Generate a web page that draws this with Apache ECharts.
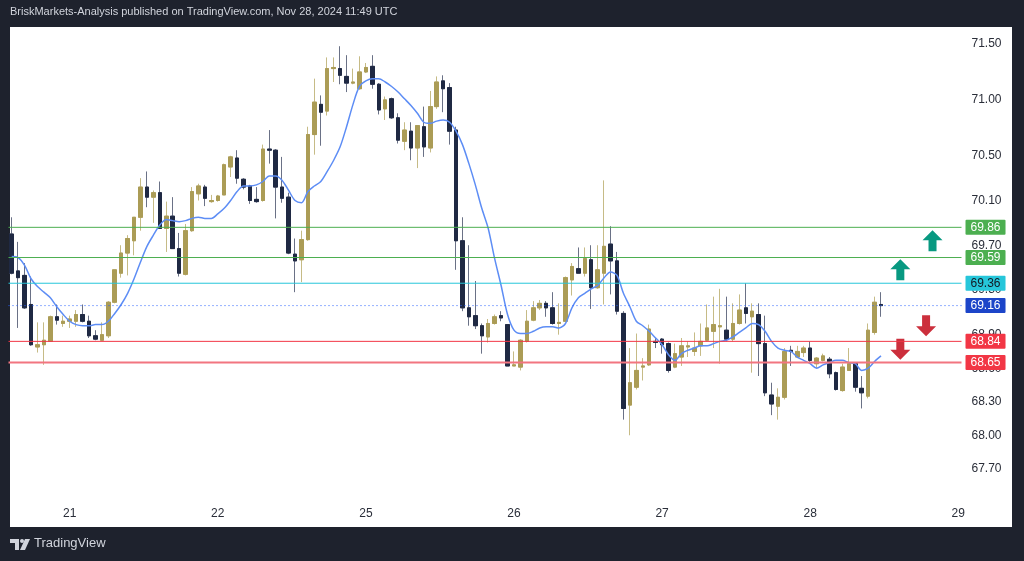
<!DOCTYPE html>
<html>
<head>
<meta charset="utf-8">
<script src="https://cdn.jsdelivr.net/npm/echarts@6/dist/echarts.min.js"></script>
<style>
  html, body { margin: 0; padding: 0; background: #1e222d; }
  #main { width: 1024px; height: 561px; }
</style>
</head>
<body>
<div id="main"></div>
<script>
// hourly candles (k = 0..135)
var opens = [69.80,69.47,69.43,69.17,68.79,68.81,68.84,69.06,69.00,69.02,69.02,69.08,69.02,68.89,68.85,68.89,69.19,69.45,69.63,69.74,
  69.95,70.22,70.13,70.17,69.85,69.96,69.67,69.44,69.83,70.16,70.22,70.09,70.10,70.15,70.40,70.48,70.29,70.23,70.11,70.10,
  70.56,70.55,70.22,70.13,69.62,69.57,69.75,70.69,70.96,70.90,71.28,71.28,71.21,71.15,71.10,71.25,71.30,71.14,70.92,71.01,
  70.84,70.63,70.72,70.57,70.76,70.57,70.94,71.17,71.11,70.73,69.74,69.14,69.07,68.98,68.88,69.00,69.07,68.99,68.62,68.61,
  68.84,69.03,69.14,69.18,69.14,69.00,69.02,69.39,69.49,69.45,69.57,69.32,69.45,69.71,69.56,69.09,68.27,68.43,68.61,68.63,
  68.84,68.86,68.82,68.61,68.70,68.79,68.75,68.80,68.85,68.93,68.97,68.94,68.86,69.00,69.14,69.06,69.08,68.82,68.36,68.26,
  68.34,68.76,68.70,68.74,68.78,68.64,68.67,68.68,68.56,68.40,68.58,68.64,68.42,68.35,68.92,69.17];
var closes = [69.45,69.41,69.14,68.81,68.81,68.85,69.06,69.03,69.02,69.04,69.08,69.02,68.89,68.86,68.90,69.19,69.48,69.63,69.76,69.95,
  70.22,70.13,70.17,69.85,69.96,69.67,69.45,69.83,70.18,70.23,70.12,70.10,70.14,70.42,70.49,70.30,70.22,70.10,70.09,70.56,
  70.55,70.22,70.12,69.63,69.56,69.75,70.69,70.98,70.89,71.28,71.29,71.22,71.15,71.16,71.25,71.29,71.14,70.91,71.00,70.84,
  70.64,70.73,70.57,70.77,70.58,70.94,71.16,71.10,70.72,69.74,69.14,69.06,68.98,68.89,69.00,69.06,69.05,68.62,68.63,68.85,
  69.02,69.14,69.18,69.14,69.00,69.01,69.41,69.51,69.45,69.58,69.32,69.48,69.69,69.56,69.11,68.24,68.47,68.58,68.62,68.95,
  68.83,68.81,68.58,68.73,68.80,68.80,68.78,68.84,68.96,68.99,68.98,68.86,69.00,69.12,69.09,69.11,68.82,68.38,68.28,68.34,
  68.75,68.75,68.75,68.78,68.67,68.69,68.71,68.55,68.41,68.61,68.64,68.43,68.38,68.94,69.19,69.16];
var highs = [69.95,69.73,69.54,69.42,69.01,69.01,69.07,69.17,69.07,69.07,69.12,69.17,69.07,68.94,69.01,69.20,69.48,69.70,69.79,69.95,
  70.30,70.36,70.19,70.27,70.09,70.13,69.81,69.89,70.22,70.25,70.24,70.15,70.15,70.43,70.50,70.55,70.30,70.24,70.22,70.60,
  70.73,70.56,70.49,70.17,69.76,69.83,70.76,71.19,71.04,71.38,71.38,71.48,71.40,71.28,71.39,71.33,71.40,71.15,71.03,71.02,
  70.88,70.80,70.80,70.77,70.94,71.08,71.21,71.22,71.15,70.76,69.95,69.70,69.38,69.00,69.04,69.08,69.11,68.99,68.75,68.86,
  69.12,69.20,69.21,69.20,69.28,69.18,69.42,69.54,69.68,69.68,69.70,69.70,70.28,69.87,69.64,69.11,68.78,68.91,68.69,68.99,
  68.87,68.87,68.83,68.82,68.87,68.84,68.92,69.00,69.17,69.24,69.31,69.24,69.18,69.26,69.36,69.18,69.18,69.07,68.47,68.42,
  68.78,68.80,68.80,68.80,68.84,68.70,68.73,68.70,68.57,68.64,68.78,68.65,68.53,69.00,69.24,69.28];
var lows = [69.44,68.96,69.13,68.80,68.74,68.63,68.84,68.99,68.97,68.96,68.97,69.01,68.87,68.85,68.85,68.87,69.18,69.41,69.43,69.61,
  69.83,70.04,69.90,69.85,69.64,69.67,69.42,69.43,69.82,70.10,70.05,70.08,70.09,70.15,70.31,70.25,70.20,70.07,70.08,70.09,
  70.43,69.94,70.08,69.62,69.28,69.37,69.74,70.51,70.59,70.86,71.16,71.14,71.07,71.14,71.09,71.24,71.10,70.87,70.82,70.83,
  70.61,70.55,70.46,70.39,70.49,70.53,70.92,70.89,70.60,69.48,69.11,68.98,68.95,68.73,68.83,68.99,69.02,68.62,68.62,68.58,
  68.83,69.02,69.12,69.06,68.99,68.90,69.01,69.25,69.45,69.42,69.13,69.31,69.17,69.26,69.08,68.14,68.00,68.41,68.49,68.62,
  68.78,68.73,68.56,68.60,68.62,68.70,68.71,68.71,68.84,68.78,68.64,68.84,68.84,68.99,69.00,68.56,68.53,68.35,68.18,68.14,
  68.32,68.62,68.69,68.70,68.64,68.60,68.66,68.51,68.40,68.39,68.58,68.39,68.24,68.33,68.90,69.06];
// blue moving average
var maLine = [69.60,69.59,69.52,69.40,69.33,69.28,69.23,69.15,69.08,69.02,68.99,68.98,68.98,68.99,68.99,69.02,69.09,69.17,69.27,69.40,
  69.55,69.69,69.79,69.88,69.93,69.92,69.91,69.92,69.94,69.95,69.94,69.94,69.98,70.03,70.10,70.18,70.23,70.23,70.24,70.27,
  70.32,70.32,70.28,70.19,70.10,70.08,70.18,70.23,70.27,70.36,70.46,70.58,70.76,70.96,71.12,71.17,71.19,71.19,71.16,71.12,
  71.07,71.01,70.95,70.88,70.80,70.79,70.81,70.82,70.80,70.72,70.60,70.43,70.24,70.03,69.85,69.58,69.34,69.08,68.94,68.91,
  68.91,68.93,68.96,68.97,68.97,68.96,69.00,69.14,69.23,69.27,69.31,69.34,69.41,69.46,69.43,69.27,69.15,69.02,68.98,68.93,
  68.87,68.81,68.72,68.67,68.73,68.76,68.78,68.80,68.80,68.82,68.84,68.85,68.88,68.92,68.96,69.00,68.99,68.93,68.84,68.78,
  68.76,68.75,68.70,68.67,68.64,68.60,68.63,68.65,68.67,68.67,68.65,68.64,68.58,68.60,68.66,68.71];

var dayLabels = ['21', '22', '25', '26', '27', '28', '29'];
var dayStarts = [9, 32, 55, 78, 101, 124, 147];
var slotCount = 148;
var priceTicks = [67.70, 68.00, 68.30, 68.60, 68.90, 69.30, 69.70, 70.10, 70.50, 71.00, 71.50];

// horizontal levels
var resistLevels = [69.86, 69.59];
var pivotLevel = 69.36;
var lastPrice = 69.16;
var supportLevels = [68.84, 68.65];

// arrow annotations [slot, price]
var upArrows = [[143, 69.74], [138, 69.48]];
var downArrows = [[142, 68.98], [138, 68.77]];

var categories = [];
for (var i = 0; i < slotCount; i++) {
  var d = dayStarts.indexOf(i);
  categories.push(d >= 0 ? dayLabels[d] : '');
}

var wickData = opens.map(function (o, i) { return [o, closes[i], lows[i], highs[i]]; });
var bodyData = opens.map(function (o, i) {
  return [o, closes[i], Math.min(o, closes[i]), Math.max(o, closes[i])];
});

var upPath = 'path://M10,0 L20,10 L14,10 L14,21 L6,21 L6,10 L0,10 Z';
var downPath = 'path://M6,0 L14,0 L14,11 L20,11 L10,21 L0,11 L6,11 Z';

// each level is a flat line across the hidden 0..1 x axis, with its price tag as end label
function levelSeries(v, boxColor, textColor, lineColor, width, type) {
  return {
    type: 'line',
    xAxisIndex: 1,
    data: [[0, v], [1, v]],
    symbol: 'none',
    silent: true,
    z: 5,
    color: lineColor,
    lineStyle: { color: lineColor, width: width, type: type },
    emphasis: { disabled: true },
    endLabel: {
      show: true, distance: 4,
      formatter: v.toFixed(2),
      color: textColor, backgroundColor: boxColor,
      padding: [2, 5, 1, 5], fontSize: 12, fontFamily: 'Liberation Sans',
      borderRadius: 1
    }
  };
}

var arrowPoints = upArrows.map(function (a) {
  return { coord: a, symbol: upPath, symbolSize: [20, 21], itemStyle: { color: '#089981' } };
}).concat(downArrows.map(function (a) {
  return { coord: a, symbol: downPath, symbolSize: [20, 21], itemStyle: { color: '#cc2f3c' } };
}));

var chart = echarts.init(document.getElementById('main'));
var option = {
  backgroundColor: '#1e222d',
  animation: false,
  graphic: [
    { type: 'rect', z: -10, shape: { x: 10, y: 27, width: 1002, height: 500 }, style: { fill: '#ffffff' } },
    { type: 'text', left: 10, top: 6, style: {
      text: 'BriskMarkets-Analysis published on TradingView.com, Nov 28, 2024 11:49 UTC',
      fill: '#d1d4dc', font: '11px "Liberation Sans"' } },
    { type: 'polygon', shape: { points: [[10, 539], [19, 539], [19, 550], [15, 550], [15, 543], [10, 543]] }, style: { fill: '#d1d4dc' } },
    { type: 'circle', shape: { cx: 22, cy: 541, r: 2 }, style: { fill: '#d1d4dc' } },
    { type: 'polygon', shape: { points: [[25, 539], [30, 539], [25, 550], [20, 550]] }, style: { fill: '#d1d4dc' } },
    { type: 'text', left: 34, top: 537, style: { text: 'TradingView', fill: '#d1d4dc', font: '13px "Liberation Sans"' } }
  ],
  grid: { left: 8.5, right: 62.5, top: 27, bottom: 62 },
  xAxis: [{
    type: 'category',
    data: categories,
    boundaryGap: true,
    axisLine: { show: false },
    axisTick: { show: false },
    splitLine: { show: false },
    axisLabel: { interval: 0, margin: 9, color: '#2a2e39', fontSize: 12, fontFamily: 'Liberation Sans' }
  }, {
    type: 'value',
    min: 0,
    max: 1,
    show: false
  }],
  yAxis: {
    type: 'value',
    position: 'right',
    min: 67.43,
    max: 71.652,
    scale: true,
    axisLine: { show: false },
    axisTick: { show: false },
    splitLine: { show: false },
    axisLabel: {
      customValues: priceTicks,
      margin: 10,
      color: '#2a2e39',
      fontSize: 12,
      fontFamily: 'Liberation Sans',
      formatter: function (v) { return v.toFixed(2); }
    }
  },
  series: [
    levelSeries(resistLevels[0], '#4caf50', '#fff', '#4caf50', 1, 'solid'),
    levelSeries(resistLevels[1], '#4caf50', '#fff', '#4caf50', 1, 'solid'),
    levelSeries(pivotLevel, '#26c6da', '#131722', '#26c6da', 1, 'solid'),
    levelSeries(lastPrice, '#1c45c9', '#fff', '#2962ff', 1, [1, 3]),
    levelSeries(supportLevels[0], '#f23645', '#fff', '#f23645', 1, 'solid'),
    levelSeries(supportLevels[1], '#f23645', '#fff', '#f27580', 2, 'solid'),
    {
      name: 'wicks',
      type: 'candlestick',
      data: wickData,
      barWidth: 4,
      itemStyle: { color: '#c6bb86', color0: '#6a7186', borderColor: '#c6bb86', borderColor0: '#6a7186', borderWidth: 1 },
      z: 2
    },
    {
      name: 'bodies',
      type: 'candlestick',
      data: bodyData,
      barWidth: 4,
      itemStyle: { color: '#ab9c56', color0: '#1f2943', borderColor: '#ab9c56', borderColor0: '#1f2943', borderWidth: 1 },
      z: 3
    },
    {
      name: 'MA',
      type: 'line',
      data: maLine,
      smooth: 0.3,
      showSymbol: false,
      lineStyle: { color: '#5d8df5', width: 1.5 },
      markPoint: { silent: true, label: { show: false }, data: arrowPoints },
      z: 4
    }
  ]
};
chart.setOption(option);
</script>
</body>
</html>
